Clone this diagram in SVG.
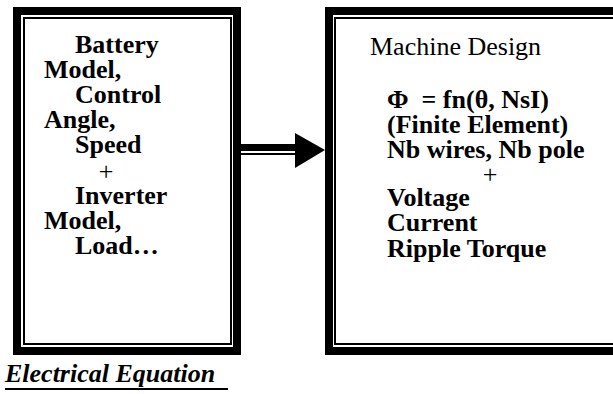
<svg xmlns="http://www.w3.org/2000/svg" width="613" height="394" viewBox="0 0 613 394">
<style>
.thick{fill:none;stroke:#000;stroke-width:8}
.thin{fill:none;stroke:#000;stroke-width:2}
.t{font-family:"Liberation Serif","Times New Roman",serif;font-size:26px;fill:#000}
.b{font-weight:bold}
.pre{white-space:pre}
</style>
<rect width="613" height="394" fill="#fff"/>
<g id="connectors">
<rect x="241" y="144" width="56" height="7" fill="#000"/>
<rect x="241" y="153" width="56" height="2" fill="#000"/>
<polygon points="295,133 325,150 295,168" fill="#000"/>
</g>
<g id="electrical">
<rect class="thick" x="17" y="11" width="220" height="340"/>
<rect class="thin" x="24" y="18" width="207" height="326"/>
<text class="t b" x="75" y="53">Battery</text>
<text class="t b" x="44" y="78">Model,</text>
<text class="t b" x="75" y="103">Control</text>
<text class="t b" x="44" y="128">Angle,</text>
<text class="t b" x="75" y="153">Speed</text>
<text class="t" x="106" y="180" text-anchor="middle">+</text>
<text class="t b" x="75" y="204">Inverter</text>
<text class="t b" x="44" y="229">Model,</text>
<text class="t b" x="75" y="254">Load…</text>
</g>
<g id="machine">
<rect class="thick" x="329" y="11" width="300" height="340"/>
<rect class="thin" x="335" y="18" width="300" height="326"/>
<text class="t" x="370" y="55">Machine Design</text>
<text class="t b pre" x="387" y="108">Φ  = fn(θ, NsI)</text>
<text class="t b" x="387" y="133">(Finite Element)</text>
<text class="t b" x="387" y="158">Nb wires, Nb pole</text>
<text class="t" x="490" y="183" text-anchor="middle">+</text>
<text class="t b" x="387" y="206">Voltage</text>
<text class="t b" x="387" y="231">Current</text>
<text class="t b" x="387" y="257">Ripple Torque</text>
</g>
<g id="caption">
<text class="t b" x="5" y="382" font-style="italic">Electrical Equation</text>
<line x1="5" y1="389" x2="228" y2="389" stroke="#000" stroke-width="2"/>
</g>
</svg>
